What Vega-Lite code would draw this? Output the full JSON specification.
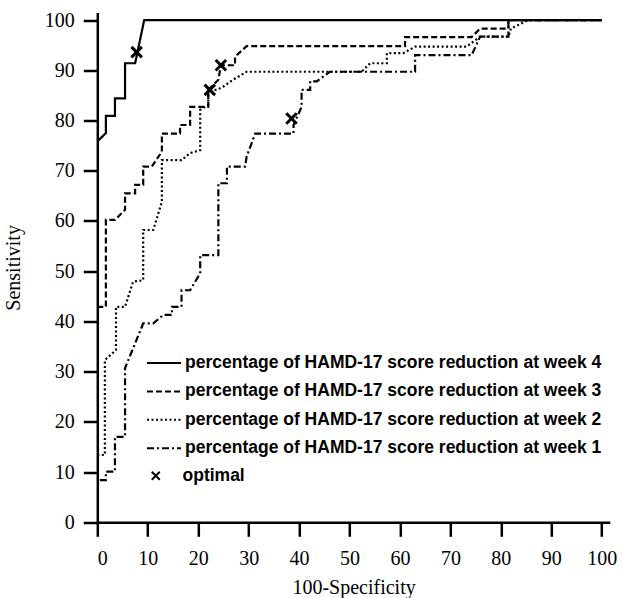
{
  "$schema": "https://vega.github.io/schema/vega-lite/v6.json",
  "width": 512.5,
  "height": 509.8,
  "autosize": {"type": "none"},
  "padding": {"left": 97.3, "top": 12.5, "right": 12.2, "bottom": 75.7},
  "background": "white",
  "config": {
    "view": {"stroke": null},
    "axis": {
      "grid": false,
      "domainColor": "black",
      "domainWidth": 2.5,
      "tickColor": "black",
      "tickWidth": 2.5,
      "tickSize": 14,
      "labelFont": "Liberation Serif",
      "labelFontSize": 20,
      "labelColor": "black",
      "titleFont": "Liberation Serif",
      "titleFontSize": 20,
      "titleFontWeight": "normal",
      "titleColor": "black"
    }
  },
  "datasets": {
    "curves": [
      {"c": "4", "x": 0, "y": 75.8}, {"c": "4", "x": 1.7, "y": 77.5}, {"c": "4", "x": 1.7, "y": 80.9}, {"c": "4", "x": 3.5, "y": 80.9},
      {"c": "4", "x": 3.5, "y": 84.4}, {"c": "4", "x": 5.5, "y": 84.4}, {"c": "4", "x": 5.5, "y": 91.4}, {"c": "4", "x": 7.5, "y": 91.4},
      {"c": "4", "x": 9.3, "y": 100}, {"c": "4", "x": 100, "y": 100},

      {"c": "3", "x": 0, "y": 42.9}, {"c": "3", "x": 1.7, "y": 42.9}, {"c": "3", "x": 1.7, "y": 60.2}, {"c": "3", "x": 3.5, "y": 60.2},
      {"c": "3", "x": 5.5, "y": 62.2}, {"c": "3", "x": 5.5, "y": 65.5}, {"c": "3", "x": 7.5, "y": 65.5}, {"c": "3", "x": 7.5, "y": 67.2},
      {"c": "3", "x": 9.1, "y": 67.2}, {"c": "3", "x": 9.1, "y": 70.8}, {"c": "3", "x": 10.8, "y": 70.8}, {"c": "3", "x": 12.8, "y": 73.8},
      {"c": "3", "x": 12.8, "y": 77.4}, {"c": "3", "x": 16.4, "y": 77.4}, {"c": "3", "x": 16.4, "y": 79.1}, {"c": "3", "x": 18.4, "y": 79.1},
      {"c": "3", "x": 18.4, "y": 82.7}, {"c": "3", "x": 22.0, "y": 82.7}, {"c": "3", "x": 22.0, "y": 86.1}, {"c": "3", "x": 24.0, "y": 88.1},
      {"c": "3", "x": 24.5, "y": 91.0}, {"c": "3", "x": 27.3, "y": 91.0}, {"c": "3", "x": 27.3, "y": 92.7}, {"c": "3", "x": 29.6, "y": 94.8},
      {"c": "3", "x": 61.0, "y": 94.8}, {"c": "3", "x": 61.0, "y": 96.6}, {"c": "3", "x": 74.2, "y": 96.6}, {"c": "3", "x": 75.9, "y": 98.3},
      {"c": "3", "x": 81.5, "y": 98.3}, {"c": "3", "x": 81.5, "y": 100}, {"c": "3", "x": 100, "y": 100},

      {"c": "2", "x": 0, "y": 13.4}, {"c": "2", "x": 1.5, "y": 13.4}, {"c": "2", "x": 1.5, "y": 32.3}, {"c": "2", "x": 3.7, "y": 34.3},
      {"c": "2", "x": 3.7, "y": 42.9}, {"c": "2", "x": 5.5, "y": 42.9}, {"c": "2", "x": 7.1, "y": 47.9}, {"c": "2", "x": 9.1, "y": 48.2},
      {"c": "2", "x": 9.1, "y": 58.2}, {"c": "2", "x": 11.1, "y": 58.2}, {"c": "2", "x": 12.8, "y": 63.8}, {"c": "2", "x": 12.8, "y": 72.1},
      {"c": "2", "x": 16.7, "y": 72.1}, {"c": "2", "x": 18.4, "y": 73.5}, {"c": "2", "x": 20.4, "y": 74.1}, {"c": "2", "x": 20.4, "y": 82.1},
      {"c": "2", "x": 22.0, "y": 83.1}, {"c": "2", "x": 22.0, "y": 86.1}, {"c": "2", "x": 23.7, "y": 86.1}, {"c": "2", "x": 24.9, "y": 86.7},
      {"c": "2", "x": 26.9, "y": 88.1}, {"c": "2", "x": 29.6, "y": 89.7}, {"c": "2", "x": 52.4, "y": 89.7}, {"c": "2", "x": 54.1, "y": 91.4},
      {"c": "2", "x": 57.4, "y": 91.4}, {"c": "2", "x": 57.4, "y": 93.4}, {"c": "2", "x": 60.7, "y": 93.4}, {"c": "2", "x": 63.0, "y": 94.7},
      {"c": "2", "x": 73.2, "y": 94.7}, {"c": "2", "x": 75.9, "y": 96.7}, {"c": "2", "x": 81.5, "y": 96.7}, {"c": "2", "x": 82.0, "y": 98.3},
      {"c": "2", "x": 85.5, "y": 100}, {"c": "2", "x": 100, "y": 100},

      {"c": "1", "x": 0.5, "y": 8.4}, {"c": "1", "x": 1.7, "y": 8.4}, {"c": "1", "x": 1.7, "y": 10.1}, {"c": "1", "x": 3.5, "y": 10.1},
      {"c": "1", "x": 3.5, "y": 17.0}, {"c": "1", "x": 5.5, "y": 17.0}, {"c": "1", "x": 5.5, "y": 30.7}, {"c": "1", "x": 9.1, "y": 39.6},
      {"c": "1", "x": 11.1, "y": 39.6}, {"c": "1", "x": 13.1, "y": 41.3}, {"c": "1", "x": 14.8, "y": 41.3}, {"c": "1", "x": 14.8, "y": 42.9},
      {"c": "1", "x": 16.7, "y": 42.9}, {"c": "1", "x": 16.7, "y": 46.2}, {"c": "1", "x": 18.4, "y": 46.2}, {"c": "1", "x": 20.4, "y": 49.6},
      {"c": "1", "x": 20.4, "y": 53.2}, {"c": "1", "x": 24.0, "y": 53.2}, {"c": "1", "x": 24.0, "y": 67.5}, {"c": "1", "x": 25.7, "y": 67.5},
      {"c": "1", "x": 25.7, "y": 70.8}, {"c": "1", "x": 29.3, "y": 70.8}, {"c": "1", "x": 29.6, "y": 72.8}, {"c": "1", "x": 31.3, "y": 77.4},
      {"c": "1", "x": 38.9, "y": 77.4}, {"c": "1", "x": 38.9, "y": 79.1}, {"c": "1", "x": 40.5, "y": 82.7}, {"c": "1", "x": 40.5, "y": 86.1},
      {"c": "1", "x": 42.2, "y": 86.1}, {"c": "1", "x": 42.2, "y": 87.8}, {"c": "1", "x": 43.5, "y": 87.8}, {"c": "1", "x": 46.1, "y": 89.7},
      {"c": "1", "x": 63.0, "y": 89.7}, {"c": "1", "x": 63.0, "y": 93.0}, {"c": "1", "x": 74.2, "y": 93.0}, {"c": "1", "x": 75.9, "y": 96.7},
      {"c": "1", "x": 81.5, "y": 96.7}, {"c": "1", "x": 81.5, "y": 100}, {"c": "1", "x": 100, "y": 100}
    ],
    "opt": [
      {"m": "optimal", "x": 7.8, "y": 93.6},
      {"m": "optimal", "x": 24.5, "y": 91.0},
      {"m": "optimal", "x": 22.3, "y": 86.1},
      {"m": "optimal", "x": 38.5, "y": 80.4}
    ]
  },
  "layer": [
    {
      "data": {"name": "curves"},
      "mark": {"type": "line", "color": "black", "strokeWidth": 2.2},
      "encoding": {
        "x": {"field": "x", "type": "quantitative", "scale": {"domain": [0, 101.6], "nice": false},
              "axis": {"values": [0, 10, 20, 30, 40, 50, 60, 70, 80, 90, 100], "title": "100-Specificity", "labelPadding": 12, "titlePadding": 9}},
        "y": {"field": "y", "type": "quantitative", "scale": {"domain": [0, 101.5], "nice": false},
              "axis": {"values": [0, 10, 20, 30, 40, 50, 60, 70, 80, 90, 100], "title": "Sensitivity", "labelPadding": 9, "titlePadding": 21}},
        "strokeDash": {
          "field": "c", "type": "nominal",
          "scale": {"domain": ["4", "3", "2", "1"], "range": [[1, 0], [6, 3], [2, 2.5], [7, 3, 2, 3]]},
          "legend": {
            "title": null, "orient": "none", "legendX": 48.7, "legendY": 332.5, "padding": 0,
            "symbolType": "stroke", "symbolSize": 1156, "symbolStrokeWidth": 2, "symbolStrokeColor": "black",
            "labelFont": "Liberation Sans", "labelFontSize": 17.5, "labelFontWeight": "bold", "labelColor": "black",
            "labelLimit": 600, "labelOffset": 3, "rowPadding": 1.4,
            "labelExpr": "'percentage of HAMD-17 score reduction at week ' + datum.label"
          }
        },
        "order": {"value": null}
      }
    },
    {
      "data": {"name": "opt"},
      "mark": {"type": "point", "filled": false, "color": "black", "strokeWidth": 3, "size": 110, "opacity": 1},
      "encoding": {
        "x": {"field": "x", "type": "quantitative"},
        "y": {"field": "y", "type": "quantitative"},
        "shape": {
          "field": "m", "type": "nominal",
          "scale": {"domain": ["optimal"], "range": ["M-1,-1L1,1M1,-1L-1,1"]},
          "legend": {
            "title": null, "orient": "none", "legendX": 49.7, "legendY": 454.5, "padding": 0,
            "symbolSize": 64, "symbolStrokeWidth": 2, "symbolStrokeColor": "black", "symbolFillColor": "transparent",
            "labelFont": "Liberation Sans", "labelFontSize": 17.5, "labelFontWeight": "bold", "labelColor": "black",
            "labelOffset": 18
          }
        }
      }
    }
  ]
}
